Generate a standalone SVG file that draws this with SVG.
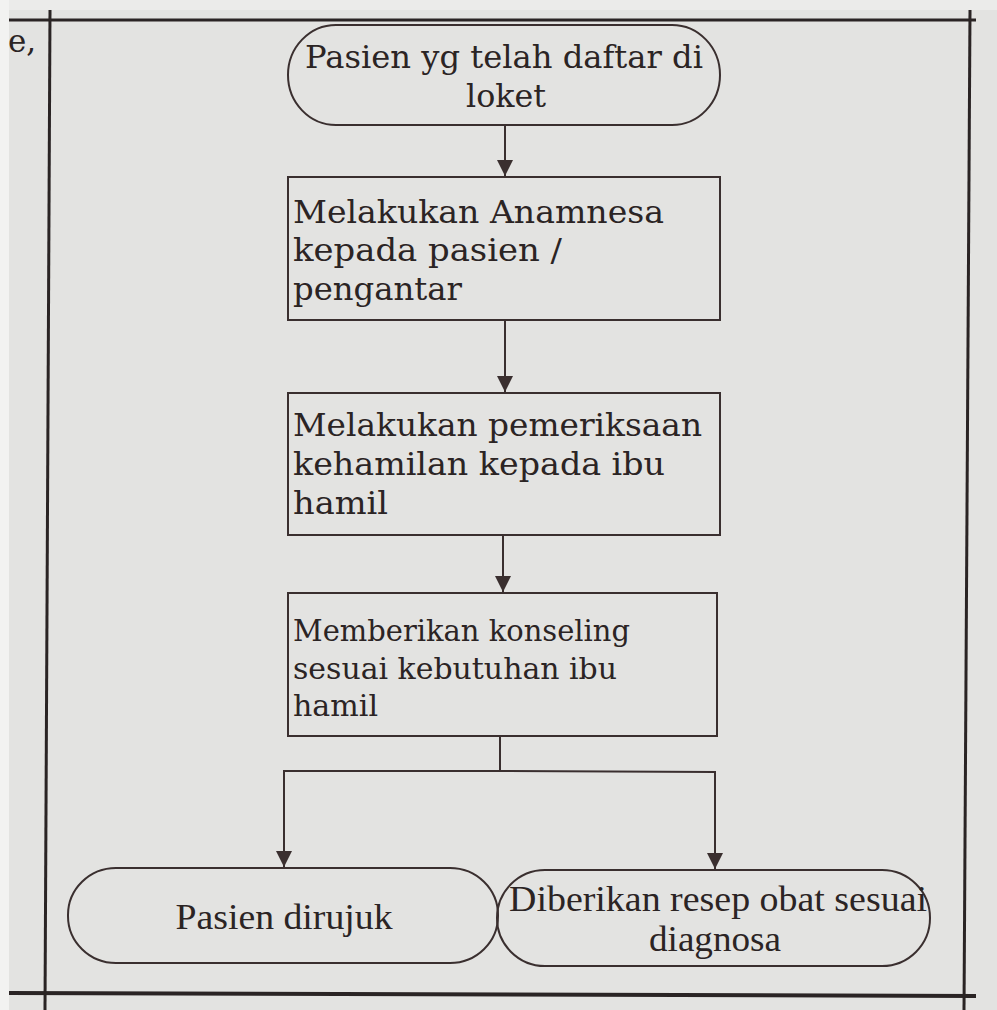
<svg xmlns="http://www.w3.org/2000/svg" width="997" height="1010" viewBox="0 0 997 1010">
<defs>
<marker id="ah" markerUnits="userSpaceOnUse" markerWidth="18" markerHeight="18" refX="16" refY="8" orient="auto">
<path d="M0,0 L16,8 L0,16 Z" fill="#3a2f2f"/>
</marker>
</defs>
<style>
.bg{fill:#e3e3e1}
.tbl{stroke:#2a2424;fill:none}
.shape{fill:none;stroke:#3a2f2f;stroke-width:2}
.conn{fill:none;stroke:#3a2f2f;stroke-width:2}
.t{font-family:"DejaVu Serif","Liberation Serif",serif;fill:#2b2424;font-size:31px}
.t2{font-family:"DejaVu Serif","Liberation Serif",serif;fill:#2b2424;font-size:29px}
.tb{font-family:"Liberation Serif",serif;fill:#2b2424;font-size:35px}
</style>
<rect class="bg" x="0" y="0" width="997" height="1010"/>
<rect x="0" y="0" width="997" height="10" fill="#ebebea"/>
<rect x="0" y="0" width="9" height="1010" fill="#f2f2f1"/>
<g id="table">
<line class="tbl" x1="9" y1="20" x2="976" y2="20" stroke-width="3"/>
<line class="tbl" x1="50" y1="10" x2="45" y2="1010" stroke-width="3"/>
<line class="tbl" x1="970" y1="10" x2="964" y2="1010" stroke-width="3"/>
<line class="tbl" x1="9" y1="993" x2="976" y2="996" stroke-width="4"/>
<text x="8" y="52" class="t">e,</text>
</g>
<g id="connectors">
<line class="conn" x1="505" y1="125" x2="505" y2="176" marker-end="url(#ah)"/>
<line class="conn" x1="505" y1="320" x2="505" y2="392" marker-end="url(#ah)"/>
<line class="conn" x1="503" y1="535" x2="503" y2="592" marker-end="url(#ah)"/>
<polyline class="conn" points="500,736 500,771 284,771 284,867" marker-end="url(#ah)"/>
<polyline class="conn" points="500,771 715,772 715,869" marker-end="url(#ah)"/>
</g>
<g id="start">
<rect class="shape" x="288" y="25" width="432" height="100" rx="48" ry="50"/>
<text x="504" y="68" class="t" text-anchor="middle" textLength="398" lengthAdjust="spacingAndGlyphs">Pasien yg telah daftar di</text>
<text x="506" y="107" class="t" text-anchor="middle" textLength="80" lengthAdjust="spacingAndGlyphs">loket</text>
</g>
<g id="anamnesa">
<rect class="shape" x="288" y="177" width="432" height="143"/>
<text x="293" y="223" class="t" textLength="371" lengthAdjust="spacingAndGlyphs">Melakukan Anamnesa</text>
<text x="293" y="261" class="t" textLength="269" lengthAdjust="spacingAndGlyphs">kepada pasien /</text>
<text x="293" y="300" class="t" textLength="169" lengthAdjust="spacingAndGlyphs">pengantar</text>
</g>
<g id="pemeriksaan">
<rect class="shape" x="288" y="393" width="432" height="142"/>
<text x="293" y="436" class="t" textLength="409" lengthAdjust="spacingAndGlyphs">Melakukan pemeriksaan</text>
<text x="293" y="475" class="t" textLength="372" lengthAdjust="spacingAndGlyphs">kehamilan kepada ibu</text>
<text x="293" y="514" class="t" textLength="95" lengthAdjust="spacingAndGlyphs">hamil</text>
</g>
<g id="konseling">
<rect class="shape" x="288" y="593" width="429" height="143"/>
<text x="293" y="641" class="t2" textLength="337" lengthAdjust="spacingAndGlyphs">Memberikan konseling</text>
<text x="293" y="679" class="t2" textLength="324" lengthAdjust="spacingAndGlyphs">sesuai kebutuhan ibu</text>
<text x="293" y="716" class="t2" textLength="85" lengthAdjust="spacingAndGlyphs">hamil</text>
</g>
<g id="dirujuk">
<rect class="shape" x="68" y="868" width="430" height="95" rx="48" ry="47"/>
<text x="284" y="929" class="tb" text-anchor="middle" textLength="217" lengthAdjust="spacingAndGlyphs">Pasien dirujuk</text>
</g>
<g id="resep">
<rect class="shape" x="497" y="870" width="433" height="96" rx="48" ry="48"/>
<text x="718" y="911" class="tb" text-anchor="middle" textLength="418" lengthAdjust="spacingAndGlyphs">Diberikan resep obat sesuai</text>
<text x="715" y="951" class="tb" text-anchor="middle" textLength="132" lengthAdjust="spacingAndGlyphs">diagnosa</text>
</g>
</svg>
